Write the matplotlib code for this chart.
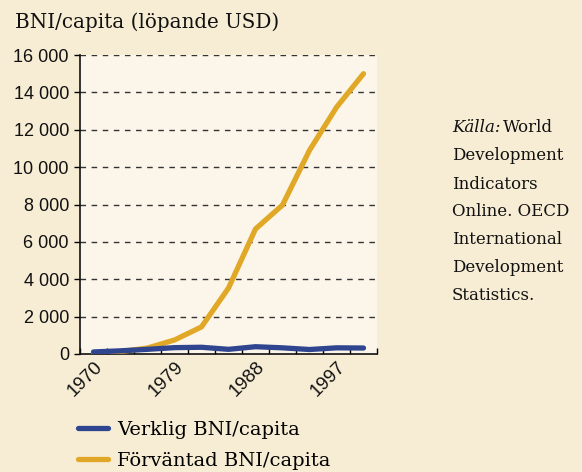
import matplotlib.pyplot as plt
import numpy as np

# Values (every third year, 1970-2000)
years = ['1970', '1973', '1976', '1979', '1982', '1985', '1988', '1991', '1994', '1997', '2000']
verklig = [110, 170, 250, 340, 360, 250, 390, 330, 240, 330, 320]
forvantad = [60, 130, 320, 750, 1450, 3530, 6690, 7970, 10900, 13200, 15000]
shown_labels = ['1970', '1979', '1988', '1997']
yticks = [0, 2000, 4000, 6000, 8000, 10000, 12000, 14000, 16000]
source_lines = ['World', 'Development', 'Indicators', 'Online. OECD',
                'International', 'Development', 'Statistics.']

bg_outer = '#f7ecd4'
bg_inner = '#fcf6ea'
blue = '#2f4590'
gold = '#e0a826'
serif = 'DejaVu Serif'
sans = 'Liberation Sans'
ink = '#111111'

fig = plt.figure(figsize=(5.82, 4.72), dpi=100, facecolor=bg_outer)
ax = fig.add_axes([80 / 582, 118 / 472, 297 / 582, 299 / 472])
ax.set_facecolor(bg_inner)

x = np.arange(len(years))
ax.plot(x, forvantad, color=gold, lw=3.8, solid_capstyle='round', label='Förväntad BNI/capita', zorder=3)
ax.plot(x, verklig, color=blue, lw=3.8, solid_capstyle='round', label='Verklig BNI/capita', zorder=4)

ax.set_xlim(-0.5, len(years) - 0.5)
ax.set_ylim(0, 16000)

# y axis + dashed grid
ax.set_yticks(yticks)
ax.set_yticklabels([f'{v:,}'.replace(',', ' ') for v in yticks], fontsize=13, family=sans, color=ink)
for v in yticks[1:]:
    ax.axhline(v, color='#333333', lw=1, ls=(0, (4, 4)), zorder=1)

# x ticks between categories, labels on selected years
ax.set_xticks(np.arange(-0.5, len(years), 1), minor=True)
ax.tick_params(axis='x', which='minor', direction='in', length=4, width=1)
ax.set_xticks([years.index(y) for y in shown_labels])
ax.set_xticklabels(shown_labels, rotation=45, ha='right', va='top', rotation_mode='anchor',
                   fontsize=13.5, family=sans, color=ink)
ax.tick_params(axis='x', which='major', length=0, pad=3)
ax.tick_params(axis='y', direction='out', length=4, width=1, pad=4)

for s in ['top', 'right']:
    ax.spines[s].set_visible(False)
for s in ['left', 'bottom']:
    ax.spines[s].set_linewidth(1.2)
    ax.spines[s].set_color(ink)

fig.text(15 / 582, 1 - 22 / 472, 'BNI/capita (löpande USD)', fontsize=14.3, family=serif,
         va='center', ha='left', color=ink)

# legend
handles, labels = ax.get_legend_handles_labels()
fig.legend(handles[::-1], labels[::-1], loc='upper left', bbox_to_anchor=(78 / 582, 1 - 421 / 472),
           frameon=False, prop={'family': serif, 'size': 14}, handlelength=1.55,
           handletextpad=0.45, labelspacing=0.68, borderpad=0, borderaxespad=0)

# source note
fig.text(452 / 582, 1 - 128 / 472, 'Källa:', fontsize=12, family=serif, style='italic',
         va='center', color=ink)
fig.text(503 / 582, 1 - 128 / 472, source_lines[0], fontsize=12, family=serif, va='center', color=ink)
for i, line in enumerate(source_lines[1:], start=1):
    fig.text(452 / 582, 1 - (128 + 28 * i) / 472, line, fontsize=12, family=serif,
             va='center', color=ink)

fig.savefig('out.png', dpi=100, facecolor=bg_outer)
